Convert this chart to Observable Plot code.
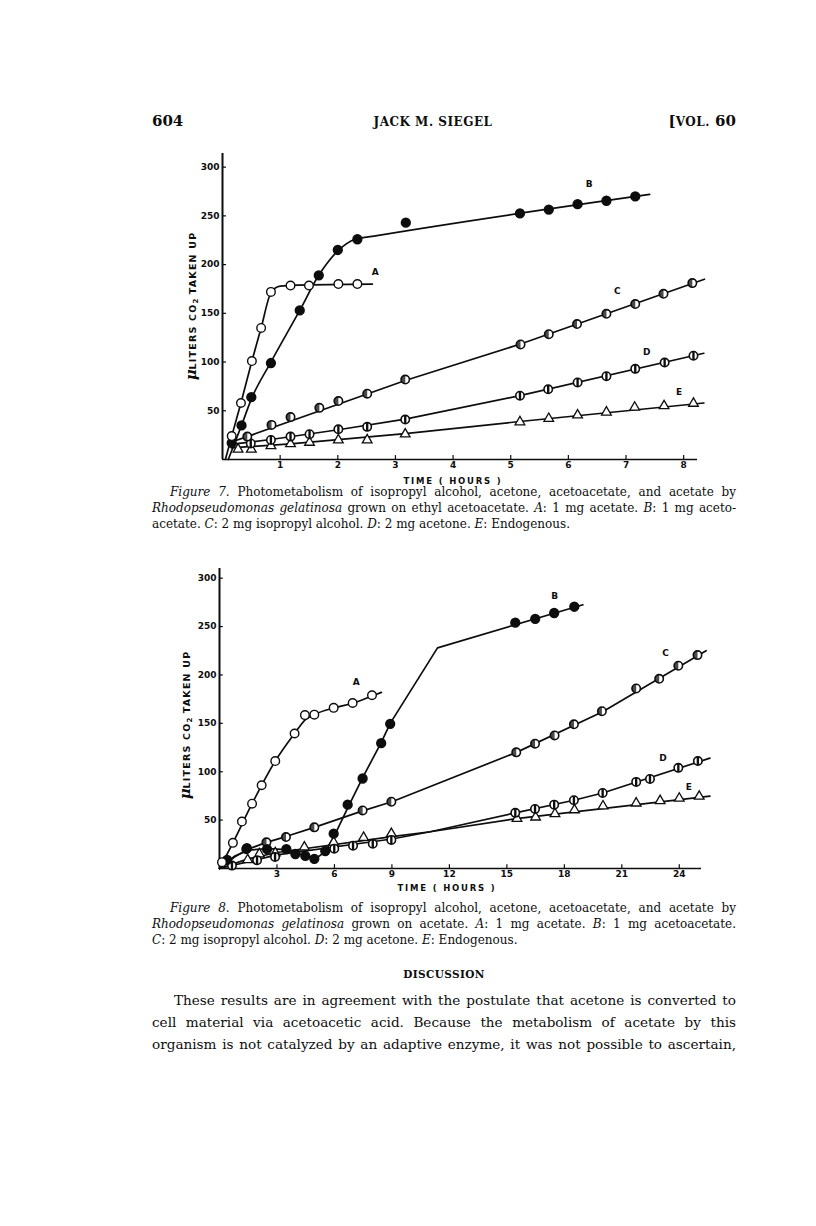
<!DOCTYPE html>
<html><head><meta charset="utf-8">
<script src="https://cdn.jsdelivr.net/npm/d3@7"></script>
<script src="https://cdn.jsdelivr.net/npm/@observablehq/plot@0.6"></script>
<style>
body{margin:0;background:#fff;}
#page{position:relative;width:816px;height:1226px;overflow:hidden;font-family:"DejaVu Serif",serif;color:#0d0d0d;}
.abs{position:absolute;white-space:nowrap;}
.jl{position:absolute;left:152px;width:584px;text-align:justify;text-align-last:justify;}
.ll{position:absolute;left:152px;width:584px;text-align:left;}
.cap{font-size:12px;line-height:16px;}
.body{font-size:13.6px;line-height:22px;}
.ylab{position:absolute;font-family:"DejaVu Sans",sans-serif;font-weight:bold;font-size:9.5px;letter-spacing:1.2px;transform:translate(-50%,-50%) rotate(-90deg);white-space:nowrap;}
.xlab{position:absolute;font-family:"DejaVu Sans",sans-serif;font-weight:bold;font-size:8.5px;letter-spacing:1.8px;transform:translate(-50%,-50%);white-space:nowrap;}
.mu{font-family:"DejaVu Serif",serif;font-style:italic;font-size:15px;letter-spacing:0;}
svg{position:absolute;left:0;overflow:visible;}
</style></head><body><div id="page">
<div class="abs" style="left:152px;top:112px;font-size:15px;font-weight:bold;">604</div>
<div class="abs" style="left:433px;top:115px;font-size:12px;font-weight:bold;transform:translateX(-50%);letter-spacing:0.5px;">JACK M. SIEGEL</div>
<div class="abs" style="right:80px;top:112px;font-size:15px;font-weight:bold;">[<span style="font-size:12px;letter-spacing:0.5px;">VOL.</span> 60</div>

<div class="ylab" style="left:191px;top:306px;"><span class="mu">μ</span>LITERS CO<sub style="font-size:7px;letter-spacing:0;">2</sub> TAKEN UP</div>
<div class="xlab" style="left:453px;top:481px;">TIME ( HOURS )</div>

<div class="jl cap" style="top:484px;padding-left:18px;width:566px;"><i>Figure 7</i>. Photometabolism of isopropyl alcohol, acetone, acetoacetate, and acetate by</div>
<div class="jl cap" style="top:500px;"><i>Rhodopseudomonas gelatinosa</i> grown on ethyl acetoacetate. <i>A</i>: 1 mg acetate. <i>B</i>: 1 mg aceto-</div>
<div class="ll cap" style="top:516px;">acetate. <i>C</i>: 2 mg isopropyl alcohol. <i>D</i>: 2 mg acetone. <i>E</i>: Endogenous.</div>

<div class="ylab" style="left:185px;top:725px;"><span class="mu">μ</span>LITERS CO<sub style="font-size:7px;letter-spacing:0;">2</sub> TAKEN UP</div>
<div class="xlab" style="left:447px;top:888px;">TIME ( HOURS )</div>

<div class="jl cap" style="top:900px;padding-left:18px;width:566px;"><i>Figure 8</i>. Photometabolism of isopropyl alcohol, acetone, acetoacetate, and acetate by</div>
<div class="jl cap" style="top:916px;"><i>Rhodopseudomonas gelatinosa</i> grown on acetate. <i>A</i>: 1 mg acetate. <i>B</i>: 1 mg acetoacetate.</div>
<div class="ll cap" style="top:932px;"><i>C</i>: 2 mg isopropyl alcohol. <i>D</i>: 2 mg acetone. <i>E</i>: Endogenous.</div>

<div class="abs" style="left:444px;top:968px;font-size:10.5px;font-weight:bold;transform:translateX(-50%);letter-spacing:0.4px;">DISCUSSION</div>
<div class="jl body" style="top:989px;padding-left:22px;width:562px;">These results are in agreement with the postulate that acetone is converted to</div>
<div class="jl body" style="top:1011px;">cell material via acetoacetic acid. Because the metabolism of acetate by this</div>
<div class="jl body" style="top:1033px;">organism is not catalyzed by an adaptive enzyme, it was not possible to ascertain,</div>
</div>
<script>
// ---------- Figure 7 data (time in hours, µl CO2) ----------
const f7A = [[0.16,24],[0.32,58],[0.51,101],[0.67,135],[0.84,172],[1.18,178.5],[1.5,178.5],[2.01,180],[2.34,180]];
const f7B = [[0.16,17],[0.33,35],[0.5,64],[0.84,99],[1.34,153],[1.67,189],[2.0,215],[2.34,226],[3.18,243],[5.16,252.5],[5.66,256.5],[6.16,262],[6.66,265.5],[7.16,270]];
const f7C = [[0.43,23.5],[0.85,35.5],[1.18,43.5],[1.68,53],[2.01,60],[2.51,67.5],[3.17,82],[5.17,118],[5.66,128.5],[6.15,139],[6.66,149.5],[7.16,159.5],[7.65,170],[8.15,181]];
const f7D = [[0.49,16.5],[0.84,20],[1.18,23.5],[1.51,26],[2.01,31],[2.51,33.5],[3.17,41],[5.16,65.5],[5.65,72],[6.16,79],[6.66,85.5],[7.16,93],[7.67,99.5],[8.17,106.5]];
const f7E = [[0.27,10.5],[0.5,10.5],[0.84,14],[1.18,16],[1.51,17.5],[2.01,20],[2.51,20],[3.17,26],[5.16,38.5],[5.66,42],[6.16,45.5],[6.66,48.5],[7.15,53.5],[7.66,55],[8.17,57.5]];
// fitted curves drawn by the authors
const f7Afit = [[0.05,0],[0.16,24],[0.32,58],[0.51,101],[0.67,135],[0.84,171],[1.0,178],[1.3,179],[2.6,180]];
const f7Bfit = [[0.1,0],[0.33,35],[0.5,62],[0.84,100],[1.34,153],[1.67,189],[2.0,214],[2.3,226],[2.6,229],[7.41,272]];
const f7Cfit = [[0.1,17],[0.43,23.5],[3.17,81],[5.17,118.5],[8.36,185]];
const f7Dfit = [[0.15,15.5],[0.84,20.5],[2.01,30.5],[3.17,41.5],[5.16,65.5],[8.35,109]];
const f7Efit = [[0.15,12],[1.18,16],[3.17,26.5],[5.16,39],[8.35,58]];
const f7xTicks = [1,2,3,4,5,6,7,8];
const yTicks = [50,100,150,200,250,300];
const seriesNames = ["A","B","C","D","E"];
const f7LabelT = [2.65,6.36,6.85,7.36,7.92];
const f7LabelV = [192,283,173,110.5,69];

// ---------- Figure 8 data ----------
const f8A = [[0.13,6.5],[0.7,26.5],[1.17,48.5],[1.7,67],[2.2,86],[2.91,111],[3.92,139.5],[4.46,158.5],[4.95,159],[5.96,166],[6.95,171],[7.96,179]];
const f8B = [[0.4,9],[1.43,21],[2.48,20],[3.49,20],[3.96,15],[4.48,13],[4.95,10],[5.52,18],[5.96,36],[6.69,66],[7.47,93],[8.44,129.5],[8.91,149.5],[15.44,254],[16.48,258],[17.47,264],[18.52,270.5]];
const f8C = [[1.4,20],[2.45,27],[3.47,32.5],[4.95,42.5],[7.47,60],[8.97,69],[15.49,120],[16.47,129],[17.49,137.5],[18.5,149],[19.96,162.5],[21.75,186],[22.95,196],[23.95,209.5],[24.95,220.5]];
const f8D = [[0.65,3],[1.96,8.5],[2.9,12],[5.99,20.5],[6.97,23.5],[8.0,25.5],[8.97,29.5],[15.44,57.5],[16.47,61.5],[17.47,66],[18.5,70.5],[20.0,78],[21.75,89.5],[22.47,92.5],[23.95,104],[24.97,111]];
const f8E = [[1.47,9],[2.08,15],[2.91,16],[4.43,22],[5.96,27],[7.52,32],[8.97,36],[15.53,51.5],[16.5,53],[17.51,56.5],[18.53,60.5],[20.02,64.5],[21.75,67.5],[23.0,70],[24.0,72.5],[25.04,74.5]];
const f8Afit = [[0,0],[0.7,26.5],[1.7,67],[2.91,111],[3.92,139.5],[4.5,154],[5.0,159.5],[6,166],[7,171],[8,178.5],[8.45,182]];
const f8Bfit = [[0,0],[0.8,13],[1.5,19],[2.5,20.5],[3.5,19.5],[4.5,13],[5.0,10],[5.5,17],[6.0,34],[6.7,63],[7.5,95],[8.44,130],[8.91,150],[11.38,228],[18.97,272.5]];
const f8Cfit = [[0,0],[0.8,12],[1.5,20],[2.45,27],[3.47,33],[4.95,42.5],[7.47,59.5],[9,69],[15.5,120],[20,162],[25.4,225]];
const f8Dfit = [[0,0],[3,14],[9,30.5],[11,38],[15.44,57.5],[18.5,70.5],[20,78],[25.6,114]];
const f8Efit = [[0,0],[1.5,10],[3,16.5],[9,33],[11,38],[15.5,51.5],[25.6,74.7]];
const f8xTicks = [3,6,9,12,15,18,21,24];
const f8LabelT = [7.14,17.49,23.28,23.15,24.5];
const f8LabelV = [192.5,281,222.5,114.5,84];

// ---------- marker symbols ----------
const leftHalf = {draw(ctx, size){const r=Math.sqrt(size/Math.PI); ctx.moveTo(0,-r); ctx.arc(0,0,r,-Math.PI/2,Math.PI/2,true); ctx.closePath();}};
const vBar = {draw(ctx, size){const r=Math.sqrt(size/Math.PI); ctx.rect(-r*0.28,-r,r*0.56,2*r);}};

const pt = a => a.map(([t,v]) => ({t, v}));
const INK = "#0d0d0d";

function chart(o){
  const fits = [[o.Afit,"monotone-x"],[o.Bfit,o.bCurve],[o.Cfit,"linear"],[o.Dfit,"linear"],[o.Efit,"linear"]];
  const lines = fits.map(([f,c]) => Plot.line(pt(f), {x:"t", y:"v", stroke:INK, strokeWidth:1.7, curve:c}));
  const labels = seriesNames.map((s,i) => ({s, t:o.labelT[i], v:o.labelV[i]}));
  return Plot.plot({
    width: 740, height: o.height,
    marginLeft: o.ml, marginRight: 740 - o.xr, marginTop: 13, marginBottom: o.mb,
    x: {type:"linear", domain:[0,o.xmax], axis:null},
    y: {type:"linear", domain:[0,o.ymax], axis:null},
    style: {background:"transparent", overflow:"visible"},
    marks: [
      Plot.ruleX([0], {y1:0, y2:o.ymax, stroke:INK, strokeWidth:2}),
      Plot.ruleY([0], {x1:0, x2:o.xmax, stroke:INK, strokeWidth:1.6}),
      Plot.ruleX(o.xTicks, {x:d=>d, y1:0, y2:o.tickLenY, stroke:INK, strokeWidth:1.2}),
      Plot.text(o.xTicks, {x:d=>d, y:0, text:d=>String(d), dy:6, fontFamily:"DejaVu Sans", fontWeight:"bold", fontSize:9, fill:INK}),
      Plot.ruleY(yTicks, {y:d=>d, x1:0, x2:o.tickLen, stroke:INK, strokeWidth:1.2}),
      Plot.text(yTicks, {y:d=>d, x:0, text:d=>String(d), dx:-3, textAnchor:"end", fontFamily:"DejaVu Sans", fontWeight:"bold", fontSize:9, fill:INK}),
      ...lines,
      Plot.dot(pt(o.E), {x:"t", y:"v", symbol:"triangle", r:3.6, fill:"white", stroke:INK, strokeWidth:1.3}),
      Plot.dot(pt(o.D), {x:"t", y:"v", r:4.2, fill:"white", stroke:INK, strokeWidth:1.6}),
      Plot.dot(pt(o.D), {x:"t", y:"v", symbol:vBar, r:4.2, fill:INK, stroke:"none"}),
      Plot.dot(pt(o.C), {x:"t", y:"v", r:4.2, fill:"white", stroke:INK, strokeWidth:1.6}),
      Plot.dot(pt(o.C), {x:"t", y:"v", symbol:leftHalf, r:4.2, fill:INK, stroke:"none", fillOpacity:0.75}),
      Plot.dot(pt(o.B), {x:"t", y:"v", r:4.4, fill:INK, stroke:INK}),
      Plot.dot(pt(o.A), {x:"t", y:"v", r:4.3, fill:"white", stroke:INK, strokeWidth:1.4}),
      Plot.text(labels, {x:"t", y:"v", text:"s", fontFamily:"DejaVu Sans", fontWeight:"bold", fontSize:9, fill:INK})
    ]
  });
}

const c7 = chart({A:f7A,B:f7B,C:f7C,D:f7D,E:f7E,Afit:f7Afit,Bfit:f7Bfit,Cfit:f7Cfit,Dfit:f7Dfit,Efit:f7Efit,bCurve:"monotone-x",
  labelT:f7LabelT,labelV:f7LabelV,xTicks:f7xTicks,xmax:8.24,ymax:314,ml:222,xr:697,height:340,mb:21,tickLen:0.07,tickLenY:4});
c7.style.top = "140px";
const c8 = chart({A:f8A,B:f8B,C:f8C,D:f8D,E:f8E,Afit:f8Afit,Bfit:f8Bfit,Cfit:f8Cfit,Dfit:f8Dfit,Efit:f8Efit,bCurve:"linear",
  labelT:f8LabelT,labelV:f8LabelV,xTicks:f8xTicks,xmax:25.16,ymax:310,ml:219,xr:701,height:333,mb:20,tickLen:0.2,tickLenY:4});
c8.style.top = "555px";
const page = document.getElementById("page");
page.appendChild(c7);
page.appendChild(c8);
</script>
</body></html>
